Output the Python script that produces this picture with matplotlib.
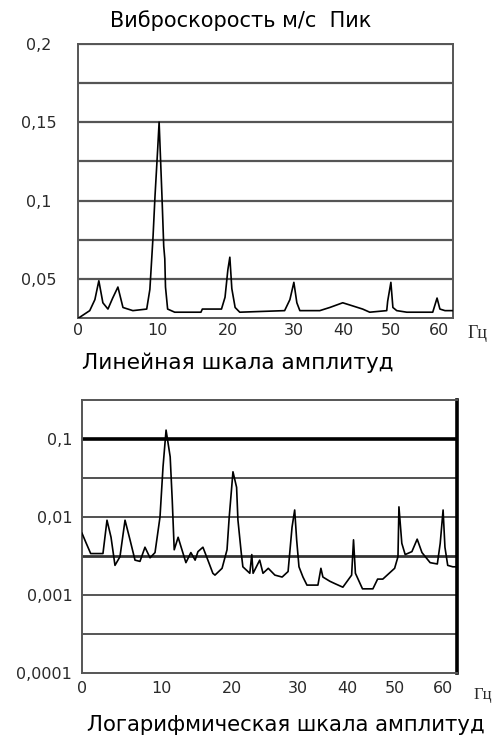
import numpy as np
import matplotlib
matplotlib.use("Agg")
import matplotlib.pyplot as plt

plt.rcParams['font.family'] = ['DejaVu Sans']

# Linear amplitude spectrum (m/s peak)
lin_hz = [0.0, 1.5, 2.15, 2.65, 3.16, 3.8, 4.4, 5.06, 5.7, 6.95, 8.7, 9.1, 9.5,
          9.75, 10.1, 10.3, 10.7, 10.95, 11.1, 11.2, 11.5, 12.5, 16.2, 16.4,
          19.1, 19.6, 20.0, 20.3, 20.6, 21.1, 21.8, 28.6, 29.4, 30.0, 30.6,
          31.2, 35.2, 37.2, 39.8, 41.9, 44.0, 45.5, 49.1, 49.3, 49.98, 50.4,
          51.2, 53.3, 58.7, 59.6, 60.2, 61.3, 63.0]
lin_amp = [0.025, 0.030, 0.037, 0.049, 0.035, 0.031, 0.038, 0.045, 0.032, 0.030,
           0.031, 0.0435, 0.077, 0.103, 0.133, 0.150, 0.103, 0.071, 0.063, 0.045,
           0.031, 0.029, 0.029, 0.031, 0.031, 0.0385, 0.056, 0.064, 0.044, 0.032,
           0.029, 0.030, 0.037, 0.048, 0.035, 0.030, 0.030, 0.032, 0.035, 0.033,
           0.031, 0.029, 0.030, 0.036, 0.048, 0.032, 0.030, 0.029, 0.029, 0.038,
           0.031, 0.030, 0.030]

# Logarithmic amplitude spectrum
log_hz = [0.0, 0.5, 1.1, 2.65, 3.16, 3.67, 4.17, 4.8, 5.44, 6.07, 6.7, 7.33, 7.96,
          8.6, 9.23, 9.86, 10.27, 10.55, 10.7, 11.28, 11.57, 11.85, 12.4, 12.83,
          13.5, 14.2, 14.8, 15.2, 15.9, 16.6, 17.3, 17.6, 18.6, 19.3, 19.6, 20.15,
          20.7, 20.9, 21.4, 21.65, 22.7, 23.0, 23.2, 24.2, 24.7, 25.5, 26.5, 27.6,
          28.5, 29.1, 29.5, 29.8, 30.2, 31.0, 31.8, 34.0, 34.6, 35.0, 36.4, 37.4,
          39.0, 40.8, 41.2, 41.6, 43.1, 45.3, 46.3, 47.4, 49.9, 50.6, 50.8, 51.4,
          52.1, 53.5, 54.6, 55.6, 57.3, 58.8, 59.4, 60.0, 60.4, 61.0, 62.1, 63.0]
log_amp = [0.0062, 0.0047, 0.0034, 0.0034, 0.0091, 0.0055, 0.0024, 0.0031, 0.0091,
           0.0051, 0.0028, 0.0027, 0.0041, 0.0030, 0.0035, 0.010, 0.044, 0.089,
           0.13, 0.059, 0.0165, 0.0038, 0.0055, 0.0041, 0.0026, 0.0035, 0.0028,
           0.0036, 0.0041, 0.0028, 0.0019, 0.0018, 0.0022, 0.0038, 0.0097, 0.038,
           0.024, 0.0092, 0.0035, 0.0023, 0.0019, 0.0033, 0.0019, 0.0028, 0.0019,
           0.0022, 0.0018, 0.0017, 0.0020, 0.0074, 0.0123, 0.0051, 0.0023, 0.0017,
           0.00134, 0.00134, 0.0022, 0.0017, 0.0015, 0.0014, 0.00126, 0.0018,
           0.0051, 0.0019, 0.0012, 0.0012, 0.0016, 0.0016, 0.0022, 0.0031, 0.0135,
           0.0046, 0.0033, 0.0036, 0.0052, 0.0035, 0.0026, 0.0025, 0.0046, 0.0123,
           0.0041, 0.0024, 0.0023, 0.0023]

x_ticks = [0, 10, 20, 30, 40, 50, 60]
lin_ticks = [0.05, 0.1, 0.15, 0.2]
lin_tick_labels = ['0,05', '0,1', '0,15', '0,2']
log_ticks = [1e-4, 1e-3, 1e-2, 1e-1]
log_tick_labels = ['0,0001', '0,001', '0,01', '0,1']

# the frequency axis of the original is not evenly spaced
x_scale_hz = [-100, 0, 10, 20, 30, 40, 50, 60, 63, 200]
x_scale_pos = [-2.11, 0, 0.211, 0.4, 0.576, 0.709, 0.835, 0.963, 1.0, 2.7]


def fwd(x):
    return np.interp(x, x_scale_hz, x_scale_pos)


def inv(p):
    return np.interp(p, x_scale_pos, x_scale_hz)


fig = plt.figure(figsize=(4.96, 7.45), dpi=100)
grid_c = '#555555'
tick_c = '#2a2a2a'

# ---- linear chart ----
ax1 = fig.add_axes([0.157, 0.5725, 0.756, 0.3691])
ax1.set_xscale('function', functions=(fwd, inv))
ax1.set_xlim(0, 63)
ax1.set_ylim(0.025, 0.2)
for g in np.arange(0.05, 0.2, 0.025):
    ax1.axhline(g, color=grid_c, lw=1.6, zorder=1)
ax1.plot(lin_hz, lin_amp, color='black', lw=1.2, zorder=3)
ax1.set_xticks(x_ticks)
ax1.set_xticklabels([str(t) for t in x_ticks])
ax1.set_yticks(lin_ticks)
ax1.set_yticklabels(lin_tick_labels)
ax1.tick_params(axis='both', length=0, labelsize=11.5, labelcolor=tick_c)
ax1.tick_params(axis='x', pad=3)
ax1.tick_params(axis='y', pad=28)
for lab in ax1.get_yticklabels():
    lab.set_ha('center')
for s in ax1.spines.values():
    s.set_color(grid_c)
    s.set_linewidth(1.4)
ax1.text(1.04, -0.025, 'Гц', transform=ax1.transAxes, fontsize=13,
         fontfamily='Liberation Serif', va='top', ha='left', color=tick_c)

# ---- logarithmic chart ----
ax2 = fig.add_axes([0.1653, 0.0966, 0.756, 0.3665])
ax2.set_xscale('function', functions=(fwd, inv))
ax2.set_yscale('log')
ax2.set_xlim(0, 63)
ax2.set_ylim(1e-4, 10 ** -0.5)
for g, w, c in [(1e-1, 2.6, 'black'), (10 ** -1.5, 1.2, '#333333'),
                (1e-2, 1.2, '#333333'), (10 ** -2.5, 2.0, '#333333'),
                (1e-3, 1.4, grid_c), (10 ** -3.5, 1.4, grid_c)]:
    ax2.axhline(g, color=c, lw=w, zorder=1)
ax2.plot(log_hz, log_amp, color='black', lw=1.2, zorder=3)
ax2.set_xticks(x_ticks)
ax2.set_xticklabels([str(t) for t in x_ticks])
ax2.set_yticks(log_ticks)
ax2.set_yticklabels(log_tick_labels)
ax2.minorticks_off()
ax2.tick_params(axis='both', length=0, labelsize=11.5, labelcolor=tick_c)
ax2.tick_params(axis='x', pad=6)
ax2.tick_params(axis='y', pad=7)
for s in ax2.spines.values():
    s.set_color(grid_c)
    s.set_linewidth(1.4)
ax2.spines['right'].set_color('black')
ax2.spines['right'].set_linewidth(2.6)
ax2.text(1.045, -0.05, 'Гц', transform=ax2.transAxes, fontsize=12,
         fontfamily='Liberation Serif', va='top', ha='left', color=tick_c)

# captions
fig.text(0.486, 0.972, 'Виброскорость м/с  Пик', ha='center', va='center',
         fontsize=15)
fig.text(0.48, 0.513, 'Линейная шкала амплитуд', ha='center', va='center',
         fontsize=15.6)
fig.text(0.577, 0.027, 'Логарифмическая шкала амплитуд', ha='center',
         va='center', fontsize=15.3)

fig.savefig('out.png', dpi=100)
